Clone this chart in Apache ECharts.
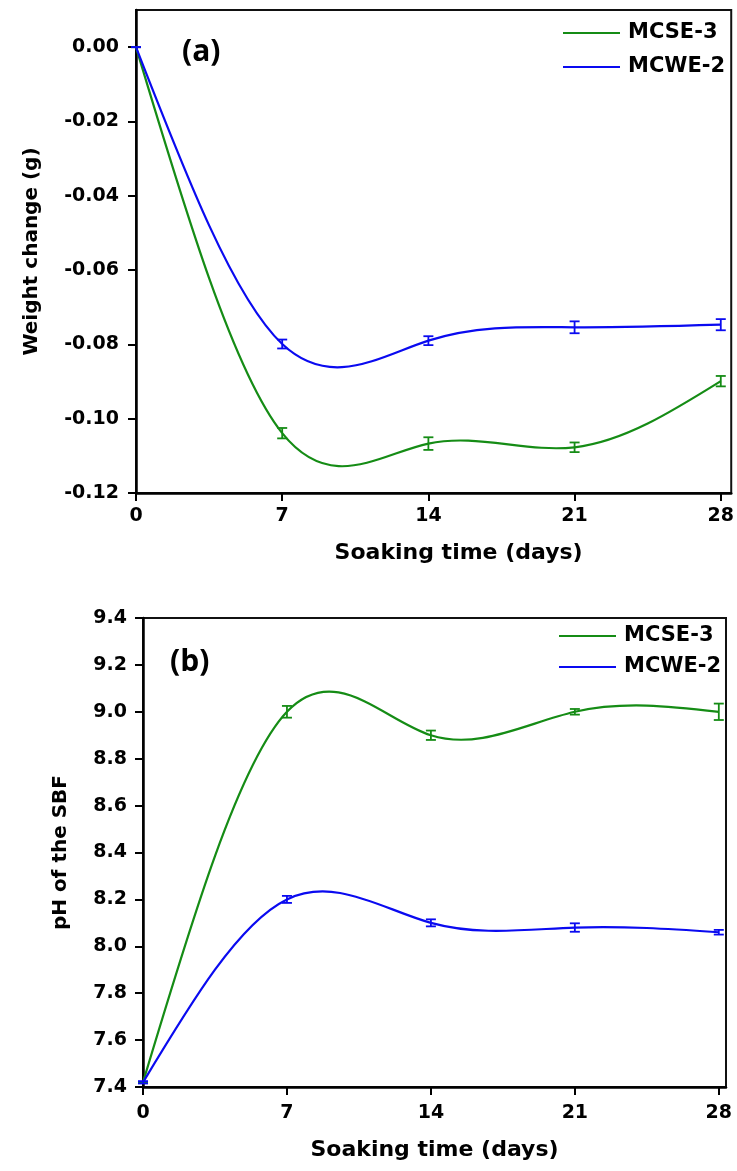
<!DOCTYPE html>
<html>
<head>
<meta charset="utf-8">
<script src="https://cdn.jsdelivr.net/npm/echarts@6/dist/echarts.min.js"></script>
<style>
  html, body { margin: 0; padding: 0; background: #ffffff; }
  #chart { width: 737px; height: 1171px; }
</style>
</head>
<body>
<div id="chart"></div>
<script>
// Soaking time points (days) and axis ticks
const days = [0, 7, 14, 21, 28];
const dayTicks = [0, 7, 14, 21, 28];
const seriesNames = ['MCSE-3', 'MCWE-2'];

// (a) Weight change (g) with standard deviations
const weightMCSE3 = [0, -0.1039, -0.1067, -0.1077, -0.0899];
const weightMCSE3Err = [0, 0.0014, 0.0017, 0.0013, 0.0014];
const weightMCWE2 = [0, -0.0799, -0.0790, -0.0754, -0.0747];
const weightMCWE2Err = [0, 0.0012, 0.0012, 0.0016, 0.0015];
const weightTicks = [-0.12, -0.10, -0.08, -0.06, -0.04, -0.02, 0.00];

// (b) pH of the SBF with standard deviations
const phMCSE3 = [7.42, 9.00, 8.90, 9.00, 9.00];
const phMCSE3Err = [0, 0.025, 0.02, 0.012, 0.035];
const phMCWE2 = [7.42, 8.20, 8.10, 8.08, 8.06];
const phMCWE2Err = [0.005, 0.015, 0.015, 0.018, 0.01];
const phTicks = [7.4, 7.6, 7.8, 8.0, 8.2, 8.4, 8.6, 8.8, 9.0, 9.2, 9.4];

const GREEN = '#158c15';
const BLUE = '#0a0af0';
const FONT = "'DejaVu Sans', 'Liberation Sans', Arial, sans-serif";

const chart = echarts.init(document.getElementById('chart'), null, { renderer: 'canvas' });

// Tangents of a natural cubic spline through the points (used as Bezier handles)
function splineSlopes(xs, ys) {
  const n = xs.length;
  const h = [];
  for (let i = 0; i < n - 1; i++) h.push(xs[i + 1] - xs[i]);
  const a = [], b = [], c = [], r = [];
  for (let i = 1; i < n - 1; i++) {
    a.push(h[i - 1]);
    b.push(2 * (h[i - 1] + h[i]));
    c.push(h[i]);
    r.push(6 * ((ys[i + 1] - ys[i]) / h[i] - (ys[i] - ys[i - 1]) / h[i - 1]));
  }
  const m = r.length;
  for (let i = 1; i < m; i++) {
    const w = a[i] / b[i - 1];
    b[i] -= w * c[i - 1];
    r[i] -= w * r[i - 1];
  }
  const sol = new Array(m);
  sol[m - 1] = r[m - 1] / b[m - 1];
  for (let i = m - 2; i >= 0; i--) sol[i] = (r[i] - c[i] * sol[i + 1]) / b[i];
  const M = [0].concat(sol, [0]);
  const s = [];
  for (let i = 0; i < n - 1; i++) s.push((ys[i + 1] - ys[i]) / h[i] - h[i] * (2 * M[i] + M[i + 1]) / 6);
  s.push((ys[n - 1] - ys[n - 2]) / h[n - 2] + h[n - 2] * (M[n - 2] + 2 * M[n - 1]) / 6);
  return s;
}

function curveSeries(name, gi, ys, color) {
  const slopes = splineSlopes(days, ys);
  return {
    type: 'custom', name: name, xAxisIndex: gi, yAxisIndex: gi, silent: true, z: 2,
    data: days.map((d, i) => [d, ys[i]]),
    encode: { x: 0, y: 1 },
    itemStyle: { color: color },
    renderItem: function (params, api) {
      const i = params.dataIndex;
      if (i >= days.length - 1) return { type: 'group', children: [] };
      const x0 = days[i], x1 = days[i + 1], y0 = ys[i], y1 = ys[i + 1];
      const h3 = (x1 - x0) / 3;
      const p0 = api.coord([x0, y0]);
      const p1 = api.coord([x0 + h3, y0 + h3 * slopes[i]]);
      const p2 = api.coord([x1 - h3, y1 - h3 * slopes[i + 1]]);
      const p3 = api.coord([x1, y1]);
      return {
        type: 'bezierCurve',
        shape: { x1: p0[0], y1: p0[1], cpx1: p1[0], cpy1: p1[1], cpx2: p2[0], cpy2: p2[1], x2: p3[0], y2: p3[1] },
        style: { stroke: color, lineWidth: 2.2, fill: null }
      };
    }
  };
}

function errorSeries(gi, ys, errs, color) {
  return {
    type: 'custom', xAxisIndex: gi, yAxisIndex: gi, silent: true, z: 3,
    data: days.map((d, i) => [d, ys[i] - errs[i], ys[i] + errs[i]]),
    encode: { x: 0, y: [1, 2] },
    renderItem: function (params, api) {
      const x = api.value(0);
      const lo = api.coord([x, api.value(1)]);
      const hi = api.coord([x, api.value(2)]);
      const w = 5;
      const st = { stroke: color, lineWidth: 1.8 };
      return {
        type: 'group',
        children: [
          { type: 'line', shape: { x1: lo[0], y1: lo[1], x2: hi[0], y2: hi[1] }, style: st },
          { type: 'line', shape: { x1: lo[0] - w, y1: lo[1], x2: lo[0] + w, y2: lo[1] }, style: st },
          { type: 'line', shape: { x1: hi[0] - w, y1: hi[1], x2: hi[0] + w, y2: hi[1] }, style: st }
        ]
      };
    }
  };
}

function xAxis(gi, max, labelMargin, nameGap, namePad) {
  return {
    gridIndex: gi, type: 'value', min: 0, max: max,
    name: 'Soaking time (days)', nameLocation: 'middle', nameGap: nameGap,
    nameTextStyle: { fontFamily: FONT, fontWeight: 'bold', fontSize: 22, color: '#000', padding: namePad },
    axisLine: { show: true, onZero: false, lineStyle: { color: '#000', width: 2.5 } },
    axisTick: { show: true, inside: false, length: 8, customValues: dayTicks, lineStyle: { color: '#000', width: 2 } },
    axisLabel: { customValues: dayTicks, margin: labelMargin, fontFamily: FONT, fontWeight: 'bold', fontSize: 19, color: '#000' },
    splitLine: { show: false }
  };
}

function yAxis(gi, min, max, ticks, digits, name, gap, margin) {
  return {
    gridIndex: gi, type: 'value', min: min, max: max,
    name: name, nameLocation: 'middle', nameGap: gap,
    nameTextStyle: { fontFamily: FONT, fontWeight: 'bold', fontSize: 20, color: '#000' },
    axisLine: { show: true, onZero: false, lineStyle: { color: '#000', width: 2.5 } },
    axisTick: { show: true, inside: false, length: 8, customValues: ticks, lineStyle: { color: '#000', width: 2 } },
    axisLabel: {
      customValues: ticks, margin: margin, fontFamily: FONT, fontWeight: 'bold', fontSize: 19, color: '#000',
      formatter: v => v.toFixed(digits)
    },
    splitLine: { show: false }
  };
}

function legend(left, top, gap) {
  return {
    orient: 'vertical', left: left, top: top, padding: 0,
    data: seriesNames, icon: 'rect', itemWidth: 57, itemHeight: 2, itemGap: gap,
    selectedMode: false,
    textStyle: { fontFamily: FONT, fontWeight: 'bold', fontSize: 21, color: '#000', lineHeight: 24, padding: [0, 0, 0, 3] }
  };
}

const panelLabel = { fontFamily: "'Open Sans', sans-serif", fontWeight: 'bold', fontSize: 30, color: '#000', lineHeight: 36 };

const option = {
  backgroundColor: '#ffffff',
  animation: false,
  title: [
    { text: '(a)', left: 182, top: 34, padding: 0, textStyle: panelLabel },
    { text: '(b)', left: 170, top: 644, padding: 0, textStyle: panelLabel }
  ],
  legend: [legend(563, 21, 10), legend(559, 624, 7)],
  grid: [
    { left: 136, top: 10, width: 598, height: 483, show: true, borderColor: '#111', borderWidth: 2, backgroundColor: 'transparent' },
    { left: 143, top: 618, width: 583, height: 469, show: true, borderColor: '#111', borderWidth: 2, backgroundColor: 'transparent' }
  ],
  xAxis: [xAxis(0, 28.5, 14, 49, [0, 0, 0, 50]), xAxis(1, 28.35, 17, 52, 0)],
  yAxis: [
    yAxis(0, -0.12, 0.01, weightTicks, 2, 'Weight change (g)', 94, 17),
    yAxis(1, 7.4, 9.4, phTicks, 1, 'pH of the SBF', 72, 16)
  ],
  series: [
    curveSeries('MCSE-3', 0, weightMCSE3, GREEN),
    curveSeries('MCWE-2', 0, weightMCWE2, BLUE),
    errorSeries(0, weightMCSE3, weightMCSE3Err, GREEN),
    errorSeries(0, weightMCWE2, weightMCWE2Err, BLUE),
    curveSeries('MCSE-3', 1, phMCSE3, GREEN),
    curveSeries('MCWE-2', 1, phMCWE2, BLUE),
    errorSeries(1, phMCSE3, phMCSE3Err, GREEN),
    errorSeries(1, phMCWE2, phMCWE2Err, BLUE)
  ]
};

chart.setOption(option);
</script>
</body>
</html>
